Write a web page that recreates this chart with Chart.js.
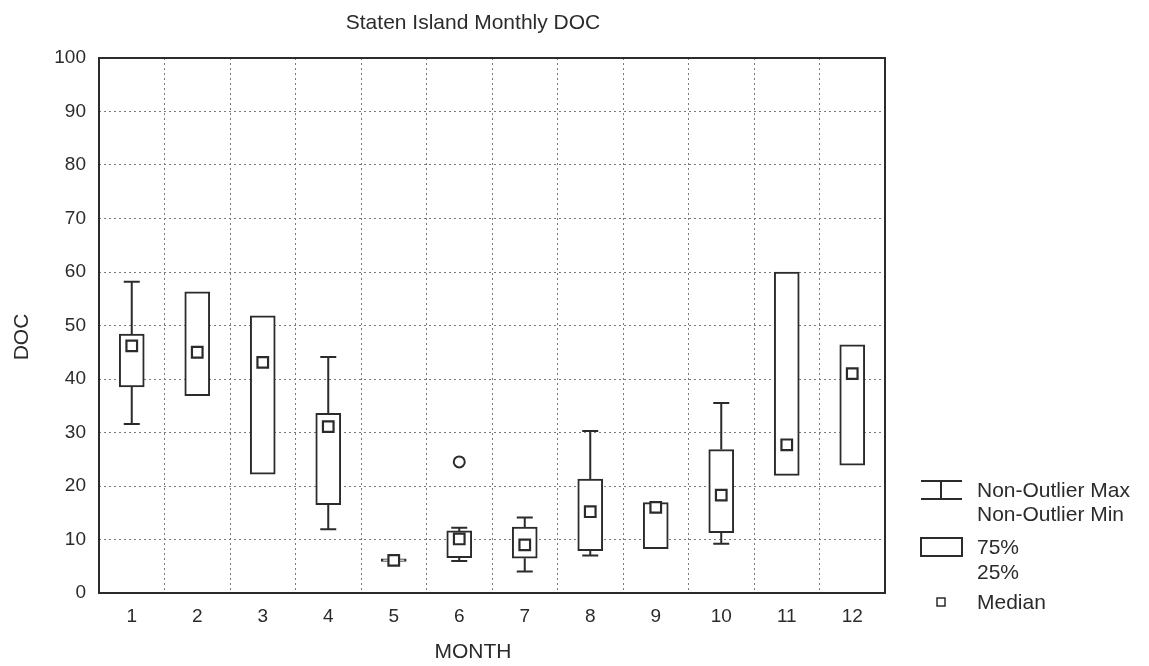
<!DOCTYPE html>
<html>
<head>
<meta charset="utf-8">
<script src="https://cdn.jsdelivr.net/npm/chart.js@4/dist/chart.umd.min.js"></script>
<style>
  body { margin: 0; background: #fff; }
  #wrap { width: 1149px; height: 666px; }
</style>
</head>
<body>
<div id="wrap"><canvas id="docChart" width="1149" height="666"></canvas></div>
<script>
const months = ["1", "2", "3", "4", "5", "6", "7", "8", "9", "10", "11", "12"];
const q1 = [38.5, 36.9, 22.2, 16.5, 5.9, 6.6, 6.5, 7.9, 8.3, 11.3, 22.0, 23.9];
const q3 = [48.4, 56.3, 51.8, 33.6, 6.4, 11.6, 12.3, 21.3, 16.9, 26.8, 60.0, 46.4];
const medians = [46.2, 45.0, 43.1, 31.1, 6.1, 10.1, 9.0, 15.2, 16.0, 18.3, 27.7, 41.0];
const whiskerMax = [58.2, null, null, 44.1, null, 12.2, 14.1, 30.3, null, 35.5, null, null];
const whiskerMin = [31.6, null, null, 11.9, null, 6.0, 4.0, 7.0, null, 9.2, null, null];
const outliers = [null, null, null, null, null, 24.5, null, null, null, null, null, null];
const yTicks = [0, 10, 20, 30, 40, 50, 60, 70, 80, 90, 100];

const ink = "#2b2b2b";
const font = "Liberation Sans, Arial, sans-serif";

// whiskers, frame, titles and legend
const extras = {
  id: "extras",
  beforeDatasetsDraw(chart) {
    const { ctx, chartArea: a, scales } = chart;
    ctx.save();
    ctx.strokeStyle = ink;
    ctx.lineWidth = 2;
    ctx.strokeRect(a.left, a.top, a.right - a.left, a.bottom - a.top);
    // whiskers
    months.forEach((m, i) => {
      const x = scales.x.getPixelForValue(i);
      const cap = 8;
      if (whiskerMax[i] != null) {
        const y0 = scales.y.getPixelForValue(q3[i]);
        const y1 = scales.y.getPixelForValue(whiskerMax[i]);
        ctx.beginPath();
        ctx.moveTo(x, y0); ctx.lineTo(x, y1);
        ctx.moveTo(x - cap, y1); ctx.lineTo(x + cap, y1);
        ctx.stroke();
      }
      if (whiskerMin[i] != null) {
        const y0 = scales.y.getPixelForValue(q1[i]);
        const y1 = scales.y.getPixelForValue(whiskerMin[i]);
        ctx.beginPath();
        ctx.moveTo(x, y0); ctx.lineTo(x, y1);
        ctx.moveTo(x - cap, y1); ctx.lineTo(x + cap, y1);
        ctx.stroke();
      }
    });
    ctx.restore();
  },
  afterDraw(chart) {
    const { ctx } = chart;
    ctx.save();
    ctx.fillStyle = ink;
    ctx.textBaseline = "middle";
    ctx.textAlign = "center";
    ctx.font = "21px " + font;
    ctx.fillText("Staten Island Monthly DOC", 473, 23);
    ctx.fillText("MONTH", 473, 652);
    ctx.save();
    ctx.translate(22, 337);
    ctx.rotate(-Math.PI / 2);
    ctx.fillText("DOC", 0, 0);
    ctx.restore();

    // legend
    ctx.strokeStyle = ink;
    ctx.lineWidth = 2;
    ctx.beginPath();
    ctx.moveTo(921, 481); ctx.lineTo(962, 481);
    ctx.moveTo(921, 499); ctx.lineTo(962, 499);
    ctx.moveTo(941, 481); ctx.lineTo(941, 499);
    ctx.stroke();
    ctx.strokeRect(921, 538, 41, 18);
    ctx.lineWidth = 1.5;
    ctx.strokeRect(937, 598, 8, 8);

    ctx.textAlign = "left";
    ctx.font = "21px " + font;
    ctx.fillText("Non-Outlier Max", 977, 491);
    ctx.fillText("Non-Outlier Min", 977, 515);
    ctx.fillText("75%", 977, 548);
    ctx.fillText("25%", 977, 573);
    ctx.fillText("Median", 977, 603);
    ctx.restore();
  }
};

const ctx = document.getElementById("docChart").getContext("2d");
// eslint-disable-next-line no-undef
const docChart = new Chart(ctx, {
  type: "bar",
  data: {
    labels: months,
    datasets: [
      {
        label: "Median",
        type: "line",
        data: medians,
        showLine: false,
        pointStyle: "rect",
        pointRadius: 7.5,
        pointBorderWidth: 2.2,
        pointBackgroundColor: "#fff",
        pointBorderColor: ink,
        order: 0,
      },
      {
        label: "Outliers",
        type: "line",
        data: outliers,
        showLine: false,
        pointStyle: "circle",
        pointRadius: 5.5,
        pointBorderWidth: 2,
        pointBackgroundColor: "#fff",
        pointBorderColor: ink,
        order: 1,
      },
      {
        label: "25%-75%",
        data: months.map((m, i) => [q1[i], q3[i]]),
        backgroundColor: "#fff",
        borderColor: ink,
        borderWidth: 2,
        borderSkipped: false,
        barThickness: 25,
        order: 2,
      },
    ],
  },
  options: {
    responsive: false,
    animation: false,
    layout: {
      padding: { left: 0, right: 264, top: 58, bottom: 0 },
    },
    plugins: {
      legend: { display: false },
      tooltip: { enabled: false },
    },
    scales: {
      x: {
        grid: {
          color: "#7a7a7a",
          lineWidth: 1,
          drawTicks: false,
        },
        border: { display: false, dash: [2, 3] },
        ticks: {
          color: ink,
          padding: 12,
          font: { family: font, size: 19 },
        },
        afterFit: (s) => { s.height = 73; },
      },
      y: {
        min: 0,
        max: 100,
        afterBuildTicks: (s) => { s.ticks = yTicks.map((v) => ({ value: v })); },
        grid: {
          color: "#7a7a7a",
          lineWidth: 1,
          drawTicks: false,
        },
        border: { display: false, dash: [2, 3] },
        ticks: {
          color: ink,
          padding: 13,
          font: { family: font, size: 19 },
        },
        afterFit: (s) => { s.width = 99; },
      },
    },
  },
  plugins: [extras],
});
</script>
</body>
</html>
